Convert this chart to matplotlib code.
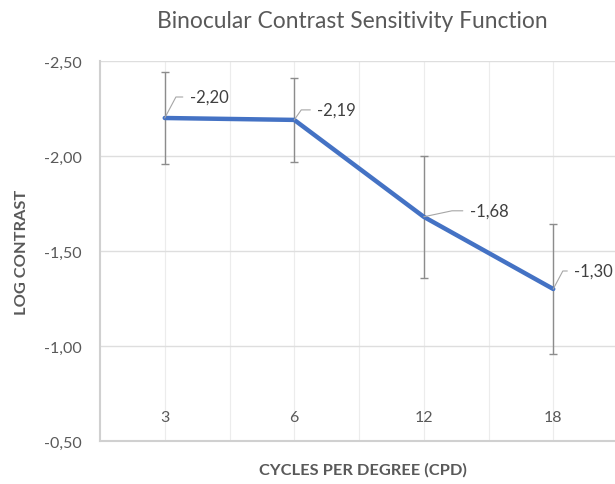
import matplotlib.pyplot as plt
from matplotlib.ticker import FuncFormatter
import matplotlib.transforms as mtransforms

# data
categories = ['3', '6', '12', '18']
log_contrast = [-2.20, -2.19, -1.68, -1.30]
err = [0.24, 0.22, 0.32, 0.34]
label_offsets = [(25, 21, 62), (23, 10, 55), (46, 6, 12), (21, 18, 62)]  # px offset, leader angle

text_color = '#595959'
plt.rcParams['font.family'] = ['Lato', 'DejaVu Sans']

fig = plt.figure(figsize=(6.15, 4.85), dpi=100)
ax = fig.add_axes([100 / 615, 43 / 485, 518 / 615, 380 / 485])

x = list(range(len(categories)))
ax.errorbar(x, log_contrast, yerr=err, fmt='none', ecolor='#8c8c8c',
            elinewidth=1, capsize=2.6, capthick=1, zorder=2)
ax.plot(x, log_contrast, color='#4472C4', linewidth=3.2,
        solid_capstyle='round', zorder=3)

ax.set_xlim(-0.5, 3.5)
ax.set_ylim(-0.5, -2.5)
ax.set_yticks([-2.5, -2.0, -1.5, -1.0, -0.5])
ax.yaxis.set_major_formatter(FuncFormatter(lambda v, p: f'{v:.2f}'.replace('.', ',')))
ax.set_xticks(x)
ax.set_xticks([0.5, 1.5, 2.5], minor=True)
ax.set_xticklabels([])
ax.tick_params(axis='both', which='both', length=0)
ax.tick_params(axis='y', labelsize=11.5, labelcolor=text_color, pad=13)

ax.grid(True, axis='y', color='#dedede', linewidth=1)
ax.grid(True, axis='x', which='both', color='#ececec', linewidth=0.8)
ax.set_axisbelow(True)
for s in ['top', 'right']:
    ax.spines[s].set_visible(False)
for s in ['left', 'bottom']:
    ax.spines[s].set_color('#d0d0d0')
    ax.spines[s].set_linewidth(1.5)

# category labels drawn inside the plot
trans = mtransforms.blended_transform_factory(ax.transData, ax.transAxes)
for xi, c in zip(x, categories):
    ax.text(xi, 0.063, c, transform=trans, ha='center', va='center',
            fontsize=11.5, color=text_color)

# data labels with leader lines
for xi, v, (dx, dy, ang) in zip(x, log_contrast, label_offsets):
    ax.annotate(f'{v:.2f}'.replace('.', ','), xy=(xi, v), xytext=(dx, dy),
                textcoords='offset pixels', ha='left', va='center',
                fontsize=12, color='#404040', annotation_clip=False,
                arrowprops=dict(arrowstyle='-', color='#a6a6a6', lw=0.8,
                                shrinkA=3, shrinkB=0,
                                connectionstyle=f'angle,angleA=0,angleB={ang},rad=0'))

fig.text(352 / 615, 1 - 22 / 485, 'Binocular Contrast Sensitivity Function',
         ha='center', va='center', fontsize=16.4, color=text_color)
fig.text(22 / 615, 1 - 252 / 485, 'LOG CONTRAST', rotation=90,
         ha='center', va='center', fontsize=11.8, fontweight='bold', color=text_color)
fig.text(363 / 615, 1 - 470 / 485, 'CYCLES PER DEGREE (CPD)',
         ha='center', va='center', fontsize=11.8, fontweight='bold', color=text_color)

plt.savefig('out.png', dpi=100)
